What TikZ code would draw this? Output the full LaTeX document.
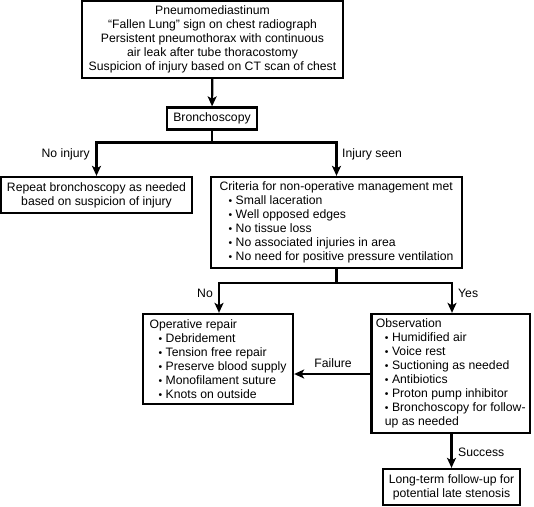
\documentclass[tikz,border=0pt]{standalone}
\usepackage{fontspec}
\usepackage{graphicx}
\setmainfont{Liberation Sans}
\usetikzlibrary{arrows.meta}
\newcommand{\bl}{\hspace*{9pt}\raisebox{0.2pt}{\scalebox{0.85}{\textbullet}}\hspace{3.5pt}}
\newcommand{\ind}{\hspace*{9pt}}
\begin{document}
\begin{tikzpicture}[x=1pt,y=-1pt,
  txt/.style={font=\fontsize{12.2}{14}\selectfont},
  box/.style={txt,draw,line width=2.3pt,inner sep=0pt},
  lbox/.style={box,align=left},
  arr/.style={line width=2.2pt,-{Stealth[length=10pt,width=9pt,inset=2.5pt]}},
  ln/.style={line width=2.2pt},
  lbl/.style={txt,inner sep=0pt}]
\useasboundingbox (0,0) rectangle (534,506);
\node[box,align=center,minimum width=261pt,minimum height=77pt] (top) at (212.5,39.5)
  {Pneumomediastinum\\ “Fallen Lung” sign on chest radiograph\\ Persistent pneumothorax with continuous\\ air leak after tube thoracostomy\\ Suspicion of injury based on CT scan of chest};
\node[box,align=center,minimum width=90pt,minimum height=22pt] (bron) at (212,118.5) {Bronchoscopy};
\node[box,align=center,minimum width=191pt,minimum height=36pt] (rep) at (96.5,195)
  {Repeat bronchoscopy as needed\\ based on suspicion of injury};
\node[lbox,minimum width=251pt,minimum height=91pt] (crit) at (336.5,222.5)
  {Criteria for non-operative management met\\ \bl Small laceration\\ \bl Well opposed edges\\ \bl No tissue loss\\ \bl No associated injuries in area\\ \bl No need for positive pressure ventilation};
\node[lbox,minimum width=150pt,minimum height=90pt] (op) at (218,359)
  {Operative repair\\ \bl Debridement\\ \bl Tension free repair\\ \bl Preserve blood supply\\ \bl Monofilament suture\\ \bl Knots on outside};
\node[lbox,minimum width=158.5pt,minimum height=119pt] (obs) at (450.75,373.5)
  {Observation\\ \bl Humidified air\\ \bl Voice rest\\ \bl Suctioning as needed\\ \bl Antibiotics\\ \bl Proton pump inhibitor\\ \bl Bronchoscopy for follow-\\ \ind up as needed};
\node[box,align=center,minimum width=137pt,minimum height=36pt] (long) at (451.5,487)
  {Long-term follow-up for\\ potential late stenosis};
\coordinate (j1) at (212,142.5);
\coordinate (j2) at (336.5,283);
\draw[arr] (top) -- (bron);
\draw[ln] (bron) -- (j1);
\draw[arr] (j1) -| (rep.north);
\draw[arr] (j1) -| (crit.north);
\draw[ln] (crit.south) -- (j2);
\draw[arr] (j2) -| ([xshift=1pt]op.north);
\draw[arr] (j2) -| ([xshift=1.25pt]obs.north);
\draw[arr] (obs.west |- 0,374) -- (op.east |- 0,374);
\draw[arr] (long.north |- obs.south) -- (long.north);
\node[lbl,anchor=east] (l1) at (90,154) {No injury};
\node[lbl,anchor=west] (l2) at (342,154) {Injury seen};
\node[lbl,anchor=east] (l3) at (213,293) {No};
\node[lbl,anchor=west] (l4) at (458,293) {Yes};
\node[lbl] (l5) at (333,363) {Failure};
\node[lbl,anchor=west] (l6) at (458,452) {Success};
\end{tikzpicture}
\end{document}
